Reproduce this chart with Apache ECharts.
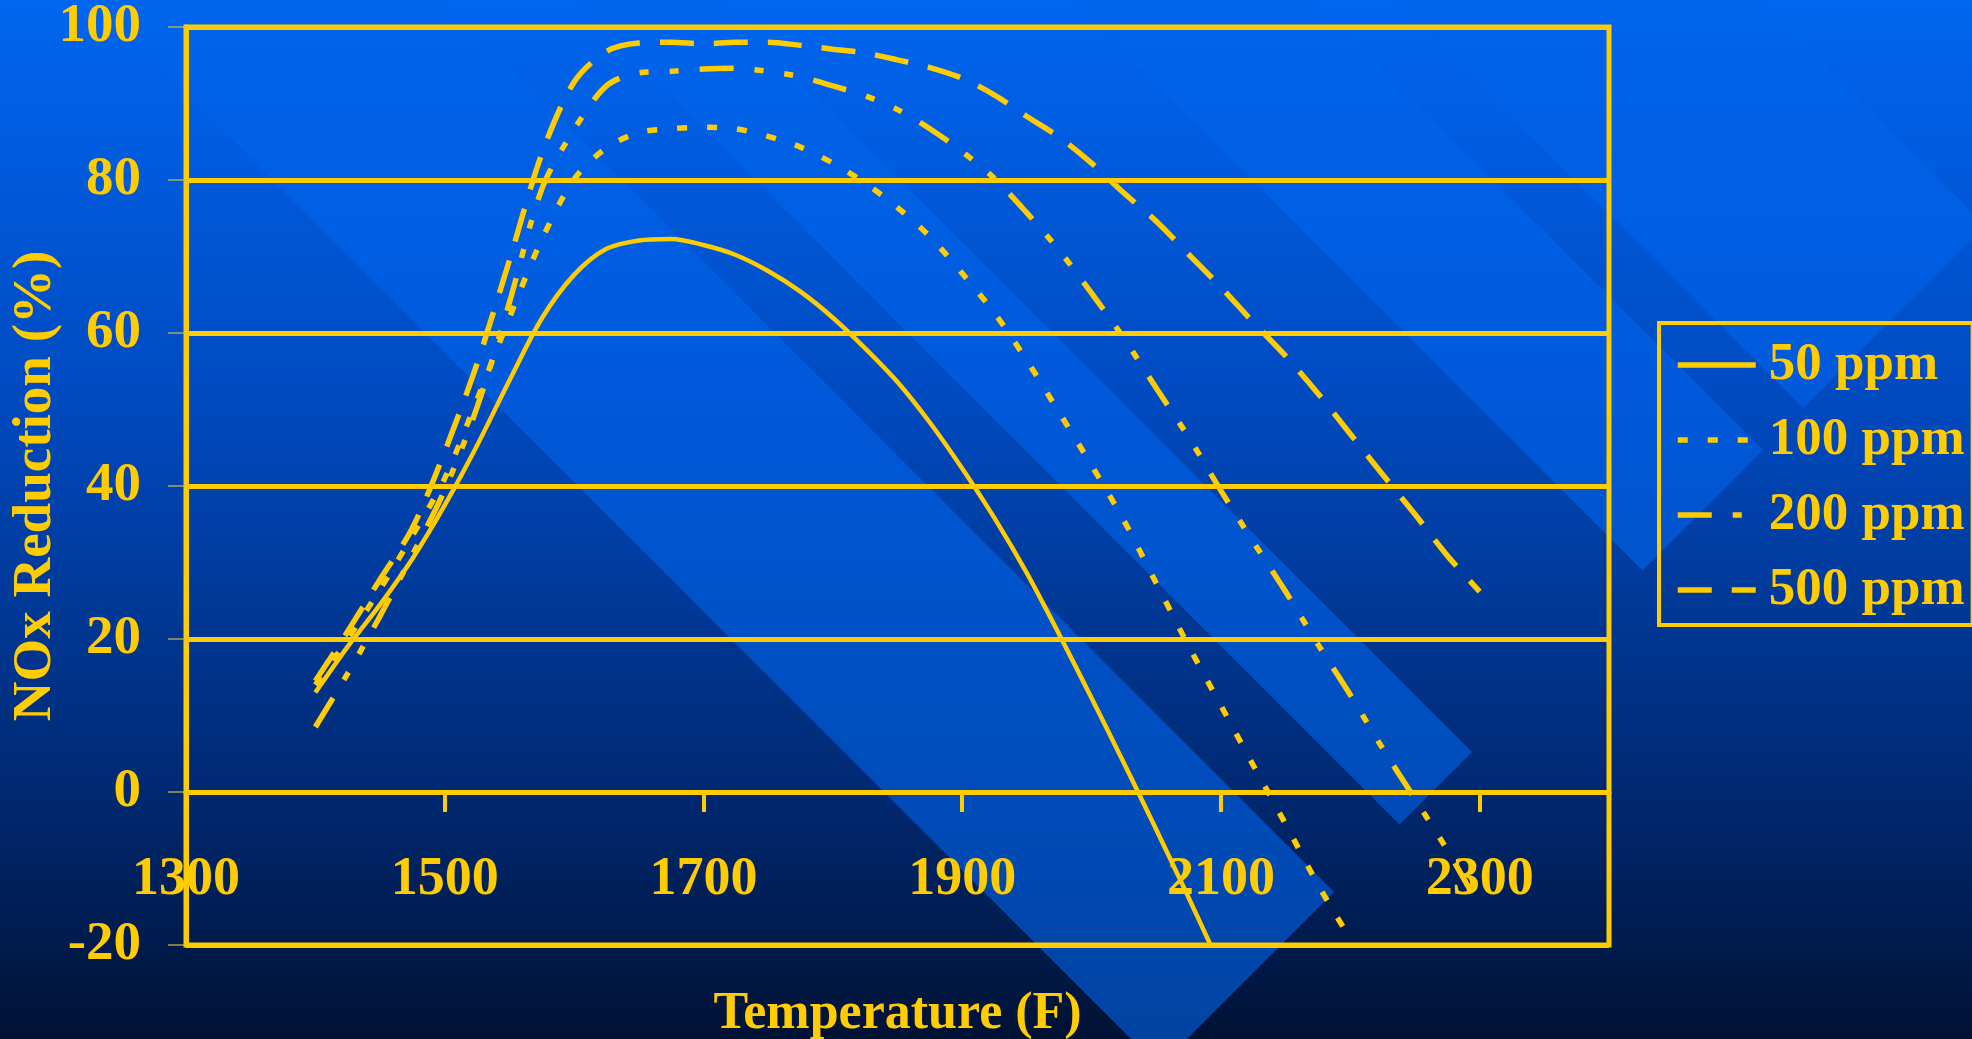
<!DOCTYPE html>
<html>
<head>
<meta charset="utf-8">
<script src="https://cdn.jsdelivr.net/npm/echarts@6/dist/echarts.min.js"></script>
<style>
html,body{margin:0;padding:0;width:1972px;height:1039px;overflow:hidden;}
#main{width:1972px;height:1039px;}
</style>
</head>
<body>
<div id="main"></div>
<script>
// ---- data ----
const seriesNames = ['50 ppm', '100 ppm', '200 ppm', '500 ppm'];

const temps50 = [1400,1425,1450,1475,1500,1525,1550,1575,1600,1625,1650,1675,1700,1725,1750,1775,1800,1825,1850,1875,1900,1925,1950,1975,2000,2025,2050,2075,2092];
const nox50   = [13.0,19.0,24.5,30.5,37.5,45.3,53.8,61.9,67.6,71.0,72.1,72.3,71.5,70.2,68.1,65.4,62.0,58.0,53.6,48.3,42.3,35.8,28.6,20.6,12.3,3.8,-4.9,-13.8,-20];

const temps100 = [1400,1425,1450,1475,1500,1525,1550,1575,1600,1625,1650,1675,1700,1725,1750,1775,1800,1825,1850,1875,1900,1925,1950,1975,2000,2025,2050,2075,2100,2125,2150,2175,2195];
const nox100   = [14.0,20.0,26.5,33.5,41.0,51.3,62.0,72.2,80.1,84.2,86.2,86.7,86.9,86.7,85.7,84.3,82.2,79.6,76.4,72.6,67.8,62.6,56.4,49.6,42.7,35.5,27.3,19.1,11.3,3.5,-4.2,-12.1,-17.8];

const temps200 = [1400,1425,1450,1475,1500,1525,1550,1575,1600,1625,1650,1675,1700,1725,1750,1775,1800,1825,1850,1875,1900,1925,1950,1975,2000,2025,2050,2075,2100,2125,2150,2175,2200,2225,2250,2275,2300];
const nox200   = [8.5,15.5,23.0,31.0,39.5,50.3,64.0,78.8,86.6,92.3,94.0,94.2,94.5,94.6,94.2,93.5,92.3,91.0,89.2,86.7,83.7,80.2,75.7,70.8,65.2,59.3,52.8,46.4,39.4,32.7,26.2,19.3,12.7,5.7,-0.9,-7.6,-15.0];

const temps500 = [1400,1425,1450,1475,1500,1525,1550,1575,1600,1625,1650,1675,1700,1725,1750,1775,1800,1825,1850,1875,1900,1925,1950,1975,2000,2025,2050,2075,2100,2125,2150,2175,2200,2225,2250,2275,2300];
const nox500   = [14.5,21.0,27.8,34.5,44.5,56.0,69.5,83.4,92.8,96.8,97.9,98.0,97.8,98.0,98.0,97.6,97.1,96.6,95.7,94.7,93.3,91.1,88.3,85.6,82.2,78.3,74.6,70.3,66.0,61.4,57.0,52.1,46.8,41.5,36.3,30.9,26.2];

const xLabelValues = [1300,1500,1700,1900,2100,2300];
const xTickValues  = [1500,1700,1900,2100,2300];

// ---- styling ----
const YEL = '#FFCC00';
const FONT = '"Liberation Serif", "Times New Roman", serif';

function pairs(xs, ys){ return xs.map((x,i)=>[x, ys[i]]); }

// decorative background stripes (45-degree bands with pointed ends)
function band(c1, c2, s){
  const t = -120;
  return [[c1 + t, t],[c2 + t, t],[(s + c2)/2, (s - c2)/2],[(s + c1)/2, (s - c1)/2]];
}
const bandDefs = [[92,442,2226],[575,720,2224],[1072,1313,2213],[1395,1760,2211]];
const graphics = bandDefs.map(b => ({
  type:'polygon', silent:true, z:-10,
  shape:{points: band(b[0], b[1], b[2])},
  style:{fill:'rgba(0,100,235,0.6)'}
}));

const chart = echarts.init(document.getElementById('main'), null, {renderer:'canvas'});

const dashDef = {
  '50 ppm': {type:'solid', width:4.5},
  '100 ppm': {type:[10,20], width:5.5},
  '200 ppm': {type:[34,21,9,21,9,21], width:5.5},
  '500 ppm': {type:[34,20], width:5.5}
};
const seriesData = [pairs(temps50,nox50), pairs(temps100,nox100), pairs(temps200,nox200), pairs(temps500,nox500)];

chart.setOption({
  animation:false,
  backgroundColor: new echarts.graphic.LinearGradient(0,0,0,1,[
    {offset:0, color:'rgb(0,102,240)'},
    {offset:0.385, color:'rgb(0,74,192)'},
    {offset:0.77, color:'rgb(0,40,112)'},
    {offset:1, color:'rgb(0,18,52)'}
  ]),
  graphic: graphics,
  grid:{left:186, right:363, top:27, bottom:94, show:true, borderColor:YEL, borderWidth:5,
        backgroundColor:'transparent', containLabel:false, outerBoundsMode:'none'},
  legend:{
    orient:'vertical', left:1659, top:323,
    padding:[14,8,7,16], itemGap:19, itemWidth:78, itemHeight:14,
    borderColor:YEL, borderWidth:4,
    data: seriesNames,
    itemStyle:{opacity:0},
    lineStyle:{width:5.5},
    textStyle:{color:YEL, fontSize:53, fontWeight:'bold', fontFamily:FONT, lineHeight:56, padding:[0,0,0,8]}
  },
  xAxis:{
    type:'value', min:1300, max:2400, interval:100,
    axisLine:{onZero:true, lineStyle:{color:YEL, width:5}},
    axisTick:{show:true, customValues:xTickValues, length:20, lineStyle:{color:YEL, width:4}},
    axisLabel:{customValues:xLabelValues, margin:-92, color:YEL, fontSize:54, fontWeight:'bold', fontFamily:FONT,
               formatter: v => String(v)},
    splitLine:{show:false},
    name:'Temperature (F)', nameLocation:'middle', nameGap:44,
    nameTextStyle:{color:YEL, fontSize:52, fontWeight:'bold', fontFamily:FONT}
  },
  yAxis:{
    type:'value', min:-20, max:100, interval:20,
    axisLine:{show:true, lineStyle:{color:YEL, width:5}},
    axisTick:{show:true, length:18, lineStyle:{color:'rgba(210,190,70,0.8)', width:1.5}},
    axisLabel:{margin:45, color:YEL, fontSize:55, fontWeight:'bold', fontFamily:FONT},
    splitLine:{show:true, lineStyle:{color:YEL, width:5}},
    name:'NOx Reduction (%)', nameLocation:'middle', nameGap:123, nameMoveOverlap:false,
    nameTextStyle:{color:YEL, fontSize:55, fontWeight:'bold', fontFamily:FONT}
  },
  series: seriesNames.map((n,i)=>({
    name:n, type:'line', data:seriesData[i],
    symbol:'none', showSymbol:false, smooth:0.3,
    lineStyle:{color:YEL, width:dashDef[n].width, type:dashDef[n].type, cap:'butt'},
    itemStyle:{color:YEL},
    z:3
  }))
});
</script>
</body>
</html>
